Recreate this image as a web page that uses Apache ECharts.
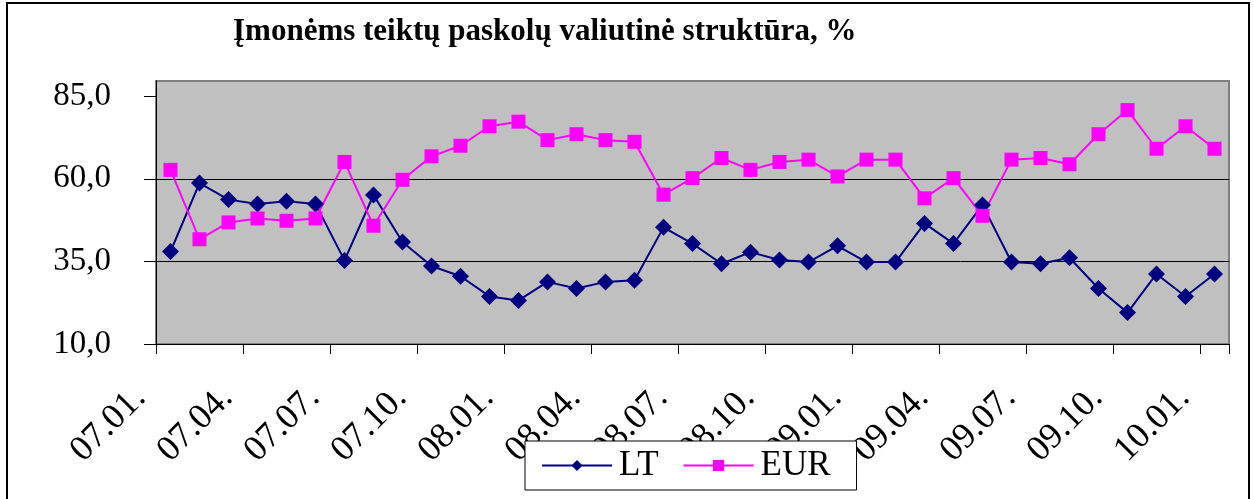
<!DOCTYPE html>
<html lang="lt">
<head>
<meta charset="utf-8">
<script src="https://cdn.jsdelivr.net/npm/echarts@6/dist/echarts.min.js"></script>
<style>
	html, body { margin: 0; padding: 0; background: #fff; }
	#chart { width: 1254px; height: 499px; }
</style>
</head>
<body>
<div id="chart"></div>
<script>
	// menesiai 2007.01 - 2010.01
	var months = [
		'07.01.', '07.02.', '07.03.', '07.04.', '07.05.', '07.06.', '07.07.', '07.08.', '07.09.', '07.10.', '07.11.', '07.12.',
		'08.01.', '08.02.', '08.03.', '08.04.', '08.05.', '08.06.', '08.07.', '08.08.', '08.09.', '08.10.', '08.11.', '08.12.',
		'09.01.', '09.02.', '09.03.', '09.04.', '09.05.', '09.06.', '09.07.', '09.08.', '09.09.', '09.10.', '09.11.', '09.12.',
		'10.01.'
	];
	var lt = [
		38.0, 58.7, 53.7, 52.4, 53.2, 52.4, 35.3, 55.1, 40.9, 33.6, 30.5, 24.4,
		23.2, 28.8, 26.8, 28.8, 29.3, 45.3, 40.4, 34.3, 37.8, 35.4, 34.8, 39.7,
		34.8, 34.8, 46.5, 40.4, 52.1, 34.8, 34.3, 36.1, 26.8, 19.5, 31.2, 24.4,
		31.2
	];
	var eur = [
		62.7, 41.7, 46.8, 48.0, 47.3, 48.0, 65.1, 45.8, 59.7, 66.8, 70.0, 75.9,
		77.3, 71.7, 73.5, 71.7, 71.2, 55.2, 60.2, 66.3, 62.7, 65.1, 65.8, 60.7,
		65.8, 65.8, 54.1, 60.2, 48.8, 65.8, 66.3, 64.4, 73.5, 80.8, 69.1, 75.9,
		69.1
	];
	var yTicks = [10, 35, 60, 85];

	var serif = '"Liberation Serif", "DejaVu Serif", serif';
	var chart = echarts.init(document.getElementById('chart'));

	chart.setOption({
		animation: false,
		backgroundColor: '#fff',
		title: {
			text: 'Įmonėms teiktų paskolų valiutinė struktūra, %',
			left: 233,
			top: 16,
			padding: 0,
			textStyle: {
				fontFamily: serif,
				fontSize: 31,
				fontWeight: 'bold',
				color: '#000'
			}
		},
		graphic: [{
			type: 'rect',
			shape: { x: 7, y: 3, width: 1242, height: 520 },
			style: { fill: 'none', stroke: '#000', lineWidth: 2 },
			silent: true
		}],
		legend: {
			left: 525,
			top: 441,
			z: 20,
			padding: [7, 26, 7, 16],
			itemWidth: 70,
			itemHeight: 14,
			itemGap: 24,
			backgroundColor: '#fff',
			borderColor: '#000',
			borderWidth: 1,
			textStyle: {
				fontFamily: serif,
				fontSize: 35,
				color: '#000',
				padding: [0, 0, 0, 2]
			},
			data: ['LT', 'EUR']
		},
		grid: {
			left: 156,
			right: 25,
			top: 81,
			bottom: 155,
			show: true,
			backgroundColor: '#c0c0c0',
			borderColor: '#808080',
			borderWidth: 2
		},
		xAxis: {
			type: 'category',
			data: months,
			boundaryGap: true,
			z: 1,
			axisLine: { lineStyle: { color: '#000', width: 1 } },
			axisTick: { show: true, interval: 2, length: 10, lineStyle: { color: '#000' } },
			axisLabel: {
				interval: 2,
				rotate: 45,
				margin: 18,
				padding: [0, 43, 0, 0],
				fontFamily: serif,
				fontSize: 36,
				color: '#000'
			}
		},
		yAxis: {
			type: 'value',
			min: 10,
			max: 89.6,
			interval: 25,
			axisLine: { show: true, lineStyle: { color: '#000', width: 1 } },
			axisTick: { show: true, length: 12, customValues: yTicks, lineStyle: { color: '#000' } },
			axisLabel: {
				customValues: yTicks,
				margin: 45,
				fontFamily: serif,
				fontSize: 33,
				color: '#000',
				formatter: function (v) { return v.toFixed(1).replace('.', ','); }
			},
			splitLine: {
				show: true,
				showMinLine: false,
				showMaxLine: false,
				lineStyle: { color: '#000', width: 1 }
			}
		},
		series: [{
			name: 'LT',
			type: 'line',
			data: lt,
			symbol: 'diamond',
			symbolSize: 17,
			itemStyle: { color: '#000080' },
			lineStyle: { color: '#000080', width: 2 }
		}, {
			name: 'EUR',
			type: 'line',
			data: eur,
			symbol: 'rect',
			symbolSize: 14,
			itemStyle: { color: '#ff00ff' },
			lineStyle: { color: '#ff00ff', width: 2 }
		}]
	});
</script>
</body>
</html>
